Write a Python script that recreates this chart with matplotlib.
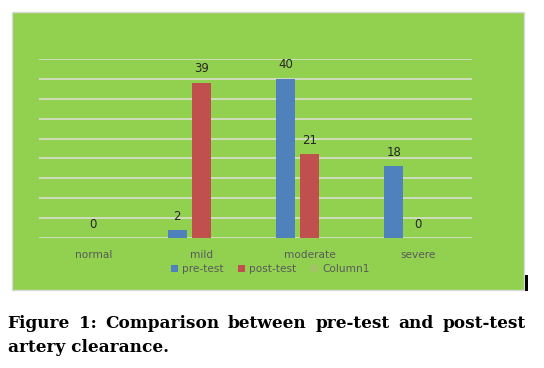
import numpy as np
import matplotlib
matplotlib.use("Agg")
from matplotlib import pyplot as plt
from matplotlib.patches import Rectangle, Patch

categories = ["normal", "mild", "moderate", "severe"]
pre_test = [np.nan, 2, 40, 18]
post_test = [0, 39, 21, 0]
column1 = [np.nan, np.nan, np.nan, np.nan]
series_names = ["pre-test", "post-test", "Column1"]
caption_lines = ["Figure 1: Comparison between pre-test and post-test",
                 "artery clearance."]

W, H = 544, 368
GREEN = "#92D050"
BLUE = "#4F81BD"
RED = "#C0504D"
COL1 = "#A3C565"
GRID = "#D9DFCF"


def fx(px):
    return px / W


def fy(py):
    return 1 - py / H


fig = plt.figure(figsize=(W / 100, H / 100), dpi=100)
fig.patch.set_facecolor("white")

# green chart panel
fig.patches.append(Rectangle((fx(11.5), fy(289.5)), fx(524) - fx(11.5), fy(11.5) - fy(289.5),
                             transform=fig.transFigure, facecolor=GREEN,
                             edgecolor="#D9D9D9", linewidth=1.0, zorder=-2))
# small black mark at the bottom right
fig.patches.append(Rectangle((fx(525), fy(291)), fx(3), fy(275) - fy(291),
                             transform=fig.transFigure, facecolor="black",
                             edgecolor="none", zorder=-2))

ax = fig.add_axes([fx(39.3), fy(238), fx(472.3) - fx(39.3), fy(59) - fy(238)])
ax.set_zorder(1)
ax.set_facecolor("none")
ax.set_xlim(-0.5, 3.5)
ax.set_ylim(0, 45)
for s in ax.spines.values():
    s.set_visible(False)
for v in np.arange(0, 46, 5):
    ax.axhline(v, color=GRID, linewidth=1.2, zorder=1)

x = np.arange(len(categories))
off = 0.225
width = 0.175
for vals, dx, col in [(pre_test, -off, BLUE), (post_test, 0, RED), (column1, off, COL1)]:
    vals = np.array(vals, dtype=float)
    ax.bar(x + dx, np.nan_to_num(vals), width=width, color=col, zorder=2)
    for xi, v in zip(x + dx, vals):
        if np.isnan(v):
            continue
        ax.annotate(f"{int(v)}", (xi, v), xytext=(0, 10), textcoords="offset points",
                    ha="center", va="center", fontsize=8.5, color="#262626")

ax.set_yticks([])
ax.set_xticks(x)
ax.set_xticklabels(categories, fontsize=7.6, color="#5A5A5A")
ax.tick_params(axis="x", length=0, pad=9)

handles = [Patch(facecolor=c, edgecolor="none") for c in (BLUE, RED, COL1)]
leg = fig.legend(handles, series_names, loc="center", bbox_to_anchor=(fx(270), fy(269)),
                 ncol=3, frameon=False, fontsize=7.6, labelcolor="#5A5A5A",
                 handlelength=0.7, handleheight=0.7, handletextpad=0.4, columnspacing=1.3)
leg.set_zorder(2)

# justified caption
fig.canvas.draw()
renderer = fig.canvas.get_renderer()
cap_font = dict(family="DejaVu Serif", weight="bold", fontsize=12.2, color="black")
left, right = 7.6, 525.6
ys = [328, 352]
for i, (line, yb) in enumerate(zip(caption_lines, ys)):
    words = line.split()
    if i == len(caption_lines) - 1:
        fig.text(fx(left), fy(yb), line, ha="left", va="baseline", **cap_font)
        continue
    texts = [fig.text(0, fy(yb), w, ha="left", va="baseline", **cap_font) for w in words]
    widths = [t.get_window_extent(renderer).width for t in texts]
    gap = (right - left - sum(widths)) / (len(words) - 1)
    pos = left
    for t, w in zip(texts, widths):
        t.set_x(fx(pos))
        pos += w + gap

fig.savefig("out.png", dpi=100)
